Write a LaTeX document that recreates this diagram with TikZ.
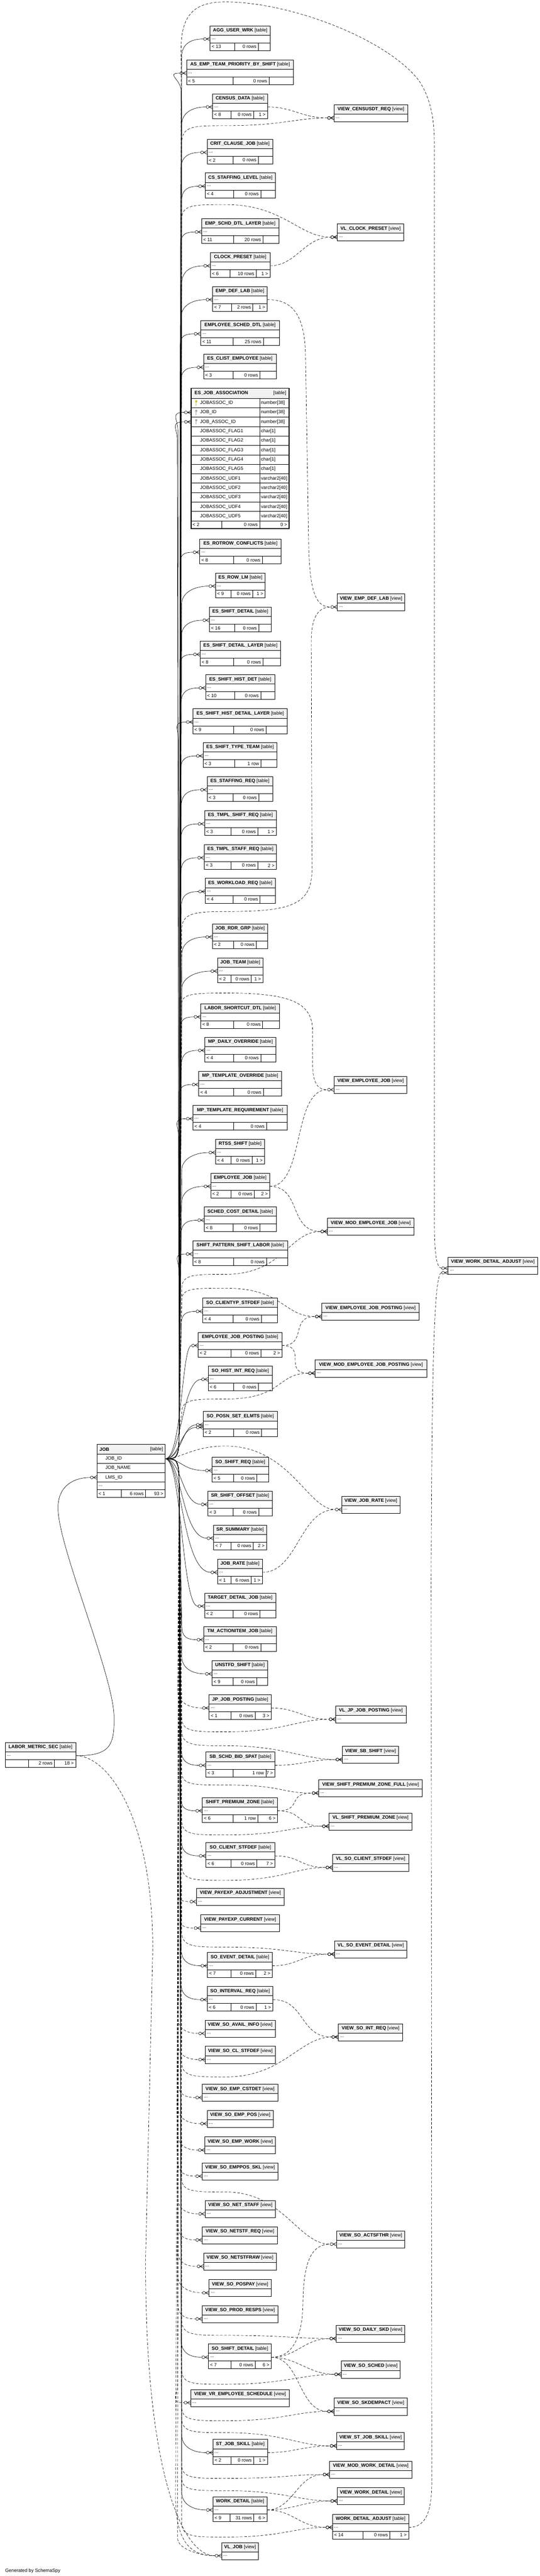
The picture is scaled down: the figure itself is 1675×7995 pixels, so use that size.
\documentclass[tikz,border=0pt]{standalone}
\usepackage{fontspec}
\setmainfont{Liberation Sans}
\usetikzlibrary{calc,backgrounds}

\newcommand{\fonte}{\fontsize{7.3}{8.5}\selectfont}

\tikzset{
  cab/.style={draw, line width=0.7pt, fill=black!5, minimum height=14.5pt, inner sep=0pt, outer sep=0pt, font=\fonte},
  lin/.style={draw, line width=0.7pt, fill=white, minimum height=12pt, inner sep=0pt, outer sep=0pt},
  rod/.style={inner sep=1pt, outer sep=0pt, font=\fonte},
  borda/.style={line width=0.7pt},
  lig/.style={line width=0.5pt},
  tr/.style={dash pattern=on 4pt off 2.5pt},
  pe/.pic={\draw[solid, line width=0.5pt] (-11.5,0) -- (0,-6) (-11.5,0) -- (0,0) (-11.5,0) -- (0,6);
           \draw[solid, line width=0.5pt] (-16,0) circle (2.25pt);},
  chave/.pic={\fill (0,-5) circle (1.7pt); \draw[line width=0.9pt] (0,-4) -- (0,9);}
}

% caixa de tabela: nome, x esquerdo, x direito, y topo, titulo
\newcommand{\tabela}[5]{%
  \node[cab, minimum width={(#3-#2)*0.5pt}, anchor=north west] (#1-c) at (#2,#4) {\textbf{#5} [table]};
  \node[lin, minimum width={(#3-#2)*0.5pt}, anchor=north west] (#1) at (#1-c.south west) {};
  \node[rod, anchor=west] (#1-p) at ($(#1.west)+(3,0)$) {...};}
% caixa de view
\newcommand{\visao}[5]{%
  \node[cab, minimum width={(#3-#2)*0.5pt}, anchor=north west] (#1-c) at (#2,#4) {\textbf{#5} [view]};
  \node[lin, minimum width={(#3-#2)*0.5pt}, anchor=north west] (#1) at (#1-c.south west) {};
  \node[rod, anchor=west] (#1-p) at ($(#1.west)+(3,0)$) {...};}
% rodape: nome, divisao 1, divisao 2, textos
\newcommand{\rodape}[6]{%
  \coordinate (#1-s1) at (#2,0);
  \coordinate (#1-s2) at (#3,0);
  \draw[borda] (#1.south west) rectangle ($(#1.south east)+(0,24)$);
  \draw[borda] (#1-s1 |- #1.south) -- ++(0,24) (#1-s2 |- #1.south) -- ++(0,24);
  \node[rod, anchor=west] (#1-f1) at ($(#1.south west)+(3,12)$) {#4};
  \node[rod, anchor=east] (#1-f2) at ($(#1-s2 |- #1.south)+(-4,12)$) {#5};
  \node[rod, anchor=east] (#1-f3) at ($(#1.south east)+(-4,12)$) {#6};}

% ligacoes a partir de JOB
\newcommand{\sobe}[2][0]{%
  \draw[lig] (job-id.east) .. controls +(35,0) and +(0,90) .. (jup)
    -- ($(tronco |- #2.west)+(-#1,55)$) .. controls +(0,-35) and +(-45,0) .. ($(#2.west)+(-21,0)$);
  \pic at (#2.west) {pe};}
\newcommand{\desce}[2][0]{%
  \draw[lig] (job-id.east) .. controls +(35,0) and +(0,-90) .. (jdn)
    -- ($(tronco |- #2.west)+(-#1,-55)$) .. controls +(0,35) and +(-45,0) .. ($(#2.west)+(-21,0)$);
  \pic at (#2.west) {pe};}
\newcommand{\descetr}[1]{%
  \draw[lig,tr] (job-id.east) .. controls +(35,0) and +(0,-90) .. (jdn)
    -- ($(tronco2 |- #1.west)+(0,-55)$) .. controls +(0,35) and +(-45,0) .. ($(#1.west)+(-21,0)$);
  \pic at (#1.west) {pe};}
\newcommand{\direto}[1]{%
  \draw[lig] (job-id.east) .. controls (tronco |- job-id.east) and (tronco |- #1.west) .. ($(#1.west)+(-21,0)$);
  \pic at (#1.west) {pe};}
\newcommand{\arcosobe}[3]{%
  \draw[lig,tr] (job-id.east) .. controls +(35,0) and +(0,90) .. (jup) -- (564,#2)
    .. controls (564,#3) and (600,#3) .. (700,#3) .. controls (880,#3) and ($(#1.west)+(-120,0)$) .. ($(#1.west)+(-21,0)$);
  \pic at (#1.west) {pe};}
\newcommand{\arcodesce}[3]{%
  \draw[lig,tr] (job-id.east) .. controls +(35,0) and +(0,-90) .. (jdn) -- (564,#2)
    .. controls (564,#3) and (600,#3) .. (700,#3) .. controls (880,#3) and ($(#1.west)+(-120,0)$) .. ($(#1.west)+(-21,0)$);
  \pic at (#1.west) {pe};}
% ligacao tabela -> view
\newcommand{\curva}[3][80]{%
  \draw[lig,tr] (#2.east) .. controls +(#1,0) and +(-#1,0) .. ($(#3.west)+(-21,0)$);
  \pic at (#3.west) {pe};}

\begin{document}
\begin{tikzpicture}[x=0.5pt,y=-0.5pt]
  \useasboundingbox (0,0) rectangle (1675,7995);

  % Coordenadas do tronco
  \coordinate (tronco) at (564,0);
  \coordinate (tronco2) at (551,0);
  \coordinate (jup) at (556,4440);
  \coordinate (jdn) at (556,4615);

  % Tabela JOB
  \node[cab, minimum width=106pt, minimum height=15pt, anchor=north west] (job-c) at (301,4483) {};
  \node[rod, anchor=west] (job-n) at ($(job-c.west)+(6,0)$) {\textbf{JOB}};
  \node[rod, anchor=east] (job-tipo) at ($(job-c.east)+(-5,0)$) {[table]};
  \node[lin, minimum width=106pt, minimum height=14.5pt, anchor=north west] (job-id) at (job-c.south west) {};
  \node[lin, minimum width=106pt, minimum height=14.5pt, anchor=north west] (job-nome) at (job-id.south west) {};
  \node[lin, minimum width=106pt, minimum height=14.5pt, anchor=north west] (job-lms) at (job-nome.south west) {};
  \node[lin, minimum width=106pt, anchor=north west] (job-p) at (job-lms.south west) {};
  \node[rod, anchor=west] (job-id-t) at ($(job-id.west)+(24,0)$) {JOB\_ID};
  \node[rod, anchor=west] (job-nome-t) at ($(job-nome.west)+(24,0)$) {JOB\_NAME};
  \node[rod, anchor=west] (job-lms-t) at ($(job-lms.west)+(24,0)$) {LMS\_ID};
  \node[rod, anchor=west] (job-pp) at ($(job-p.west)+(3,0)$) {...};
  \rodape{job-p}{376}{452}{< 1}{6 rows}{93 >}

  % Tabela ES_JOB_ASSOCIATION
  \node[cab, minimum width=152pt, minimum height=15.5pt, anchor=north west] (ja-c) at (593,1205) {};
  \node[rod, anchor=west] (ja-n) at ($(ja-c.west)+(9,0)$) {\textbf{ES\_JOB\_ASSOCIATION}};
  \node[rod, anchor=east] (ja-tipo) at ($(ja-c.east)+(-7,0)$) {[table]};
  \coordinate (ja-col) at (806,0);
  \foreach \nome/\tipo [count=\i from 0] in {JOBASSOC\_ID/number[38], JOB\_ID/number[38], JOB\_ASSOC\_ID/number[38],
      JOBASSOC\_FLAG1/char[1], JOBASSOC\_FLAG2/char[1], JOBASSOC\_FLAG3/char[1], JOBASSOC\_FLAG4/char[1], JOBASSOC\_FLAG5/char[1],
      JOBASSOC\_UDF1/varchar2[40], JOBASSOC\_UDF2/varchar2[40], JOBASSOC\_UDF3/varchar2[40], JOBASSOC\_UDF4/varchar2[40], JOBASSOC\_UDF5/varchar2[40]}{
    \node[lin, minimum width=152pt, minimum height=14.65pt, anchor=north west] (ja-\i) at (593,{1236+29.3*\i}) {};
    \node[rod, anchor=west] (ja-n\i) at ($(ja-\i.west)+(26,0)$) {\nome};
    \node[rod, anchor=west] (ja-t\i) at ($(ja-\i.west)+(215,0)$) {\tipo};
    \draw[borda] (ja-col |- ja-\i.north) -- (ja-col |- ja-\i.south);
  }
  \pic[color=yellow!75!black] at ($(ja-0.west)+(16,0)$) {chave};
  \pic[color=gray!70] at ($(ja-1.west)+(16,0)$) {chave};
  \pic[color=gray!70] at ($(ja-2.west)+(16,0)$) {chave};
  \rodape{ja-12}{688}{806}{< 2}{0 rows}{0 >}
  \draw[line width=1.4pt] (ja-c.north west) rectangle ($(ja-12.south east)+(0,24)$);

  % Tabelas
  \tabela{agg}{652}{839}{80}{AGG\_USER\_WRK} \rodape{agg}{729}{802}{< 13}{0 rows}{}
  \tabela{asemp}{579}{911}{186}{AS\_EMP\_TEAM\_PRIORITY\_BY\_SHIFT} \rodape{asemp}{724}{835}{< 5}{0 rows}{}
  \tabela{cens}{660}{830}{291}{CENSUS\_DATA} \rodape{cens}{717}{787}{< 8}{0 rows}{1 >}
  \tabela{crit}{643}{846}{432}{CRIT\_CLAUSE\_JOB} \rodape{crit}{724}{802}{< 2}{0 rows}{}
  \tabela{cssl}{637}{855}{537}{CS\_STAFFING\_LEVEL} \rodape{cssl}{725}{809}{< 4}{0 rows}{}
  \tabela{esdl}{626}{865}{679}{EMP\_SCHD\_DTL\_LAYER} \rodape{esdl}{725}{816}{< 11}{20 rows}{}
  \tabela{clock}{653}{838}{784}{CLOCK\_PRESET} \rodape{clock}{714}{795}{< 6}{10 rows}{1 >}
  \tabela{edl}{660}{829}{889}{EMP\_DEF\_LAB} \rodape{edl}{718}{785}{< 7}{2 rows}{1 >}
  \tabela{esd}{623}{867}{995}{EMPLOYEE\_SCHED\_DTL} \rodape{esd}{724}{817}{< 11}{25 rows}{}
  \tabela{clist}{632}{857}{1099}{ES\_CLIST\_EMPLOYEE} \rodape{clist}{724}{807}{< 3}{0 rows}{}
  \tabela{rotrow}{620}{872}{1673}{ES\_ROTROW\_CONFLICTS} \rodape{rotrow}{725}{814}{< 8}{0 rows}{}
  \tabela{rowlm}{669}{823}{1778}{ES\_ROW\_LM} \rodape{rowlm}{717}{784}{< 9}{0 rows}{1 >}
  \tabela{shdet}{650}{841}{1884}{ES\_SHIFT\_DETAIL} \rodape{shdet}{728}{803}{< 16}{0 rows}{}
  \tabela{shdl}{621}{871}{1990}{ES\_SHIFT\_DETAIL\_LAYER} \rodape{shdl}{725}{816}{< 8}{0 rows}{}
  \tabela{shhd}{638}{853}{2094}{ES\_SHIFT\_HIST\_DET} \rodape{shhd}{728}{809}{< 10}{0 rows}{}
  \tabela{shhdl}{599}{892}{2200}{ES\_SHIFT\_HIST\_DETAIL\_LAYER} \rodape{shhdl}{725}{826}{< 9}{0 rows}{}
  \tabela{stt}{630}{860}{2305}{ES\_SHIFT\_TYPE\_TEAM} \rodape{stt}{728}{810}{< 3}{1 row}{}
  \tabela{streq}{643}{846}{2410}{ES\_STAFFING\_REQ} \rodape{streq}{724}{803}{< 3}{0 rows}{}
  \tabela{tsh}{635}{857}{2516}{ES\_TMPL\_SHIFT\_REQ} \rodape{tsh}{717}{800}{< 3}{0 rows}{1 >}
  \tabela{tst}{634}{858}{2621}{ES\_TMPL\_STAFF\_REQ} \rodape{tst}{717}{800}{< 3}{0 rows}{2 >}
  \tabela{wl}{637}{854}{2726}{ES\_WORKLOAD\_REQ} \rodape{wl}{724}{807}{< 4}{0 rows}{}
  \tabela{rdr}{659}{831}{2867}{JOB\_RDR\_GRP} \rodape{rdr}{725}{796}{< 2}{0 rows}{}
  \tabela{team}{675}{816}{2973}{JOB\_TEAM} \rodape{team}{717}{780}{< 2}{0 rows}{1 >}
  \tabela{lsd}{623}{868}{3115}{LABOR\_SHORTCUT\_DTL} \rodape{lsd}{725}{815}{< 8}{0 rows}{}
  \tabela{mpd}{636}{856}{3219}{MP\_DAILY\_OVERRIDE} \rodape{mpd}{725}{809}{< 4}{0 rows}{}
  \tabela{mpto}{617}{874}{3325}{MP\_TEMPLATE\_OVERRIDE} \rodape{mpto}{725}{817}{< 4}{0 rows}{}
  \tabela{mptr}{599}{891}{3431}{MP\_TEMPLATE\_REQUIREMENT} \rodape{mptr}{725}{827}{< 4}{0 rows}{}
  \tabela{rtss}{669}{821}{3536}{RTSS\_SHIFT} \rodape{rtss}{717}{782}{< 4}{0 rows}{1 >}
  \tabela{ej}{654}{837}{3641}{EMPLOYEE\_JOB} \rodape{ej}{717}{789}{< 2}{0 rows}{2 >}
  \tabela{scd}{634}{857}{3746}{SCHED\_COST\_DETAIL} \rodape{scd}{724}{807}{< 8}{0 rows}{}
  \tabela{spsl}{598}{893}{3851}{SHIFT\_PATTERN\_SHIFT\_LABOR} \rodape{spsl}{725}{827}{< 8}{0 rows}{}
  \tabela{soct}{629}{861}{4029}{SO\_CLIENTYP\_STFDEF} \rodape{soct}{724}{811}{< 4}{0 rows}{}
  \tabela{ejp}{615}{875}{4135}{EMPLOYEE\_JOB\_POSTING} \rodape{ejp}{717}{810}{< 2}{0 rows}{2 >}
  \tabela{shir}{646}{845}{4240}{SO\_HIST\_INT\_REQ} \rodape{shir}{725}{802}{< 6}{0 rows}{}
  \tabela{spse}{630}{861}{4381}{SO\_POSN\_SET\_ELMTS} \rodape{spse}{725}{812}{< 2}{0 rows}{}
  \tabela{ssr}{658}{833}{4523}{SO\_SHIFT\_REQ} \rodape{ssr}{725}{797}{< 5}{0 rows}{}
  \tabela{sro}{645}{845}{4628}{SR\_SHIFT\_OFFSET} \rodape{sro}{724}{803}{< 3}{0 rows}{}
  \tabela{srs}{663}{827}{4733}{SR\_SUMMARY} \rodape{srs}{717}{786}{< 7}{0 rows}{2 >}
  \tabela{jr}{675}{814}{4839}{JOB\_RATE} \rodape{jr}{717}{780}{< 1}{6 rows}{1 >}
  \tabela{tdj}{635}{856}{4944}{TARGET\_DETAIL\_JOB} \rodape{tdj}{724}{807}{< 2}{0 rows}{}
  \tabela{tmai}{632}{857}{5048}{TM\_ACTIONITEM\_JOB} \rodape{tmai}{724}{809}{< 2}{0 rows}{}
  \tabela{unst}{658}{831}{5154}{UNSTFD\_SHIFT} \rodape{unst}{724}{797}{< 9}{0 rows}{}
  \tabela{jp}{649}{842}{5260}{JP\_JOB\_POSTING} \rodape{jp}{717}{792}{< 1}{0 rows}{3 >}
  \tabela{lms}{16}{235}{5408}{LABOR\_METRIC\_SEC} \rodape{lms}{89}{169}{}{2 rows}{18 >}
  \tabela{sbs}{639}{853}{5438}{SB\_SCHD\_BID\_SPAT} \rodape{sbs}{723}{825}{< 3}{1 row}{7 >}
  \tabela{spz}{628}{861}{5579}{SHIFT\_PREMIUM\_ZONE} \rodape{spz}{723}{800}{< 6}{1 row}{6 >}
  \tabela{socs}{639}{853}{5719}{SO\_CLIENT\_STFDEF} \rodape{socs}{717}{797}{< 6}{0 rows}{7 >}
  \tabela{sed}{644}{845}{6060}{SO\_EVENT\_DETAIL} \rodape{sed}{717}{794}{< 7}{0 rows}{2 >}
  \tabela{sir}{643}{847}{6165}{SO\_INTERVAL\_REQ} \rodape{sir}{717}{795}{< 6}{0 rows}{1 >}
  \tabela{sosd}{647}{842}{7275}{SO\_SHIFT\_DETAIL} \rodape{sosd}{717}{792}{< 7}{0 rows}{6 >}
  \tabela{stjs}{661}{830}{7571}{ST\_JOB\_SKILL} \rodape{stjs}{717}{787}{< 2}{0 rows}{1 >}
  \tabela{wd}{661}{829}{7749}{WORK\_DETAIL} \rodape{wd}{714}{788}{< 9}{31 rows}{6 >}
  \tabela{wda}{1032}{1268}{7803}{WORK\_DETAIL\_ADJUST} \rodape{wda}{1127}{1210}{< 14}{0 rows}{1 >}

  % Views
  \visao{vcens}{1037}{1265}{325}{VIEW\_CENSUSDT\_REQ}
  \visao{vlclock}{1047}{1253}{695}{VL\_CLOCK\_PRESET}
  \visao{vedl}{1047}{1256}{1843}{VIEW\_EMP\_DEF\_LAB}
  \visao{vej}{1037}{1263}{3341}{VIEW\_EMPLOYEE\_JOB}
  \visao{vmej}{1016}{1285}{3781}{VIEW\_MOD\_EMPLOYEE\_JOB}
  \visao{vwda}{1391}{1668}{3902}{VIEW\_WORK\_DETAIL\_ADJUST}
  \visao{vejp}{999}{1301}{4045}{VIEW\_EMPLOYEE\_JOB\_POSTING}
  \visao{vmejp}{978}{1324}{4221}{VIEW\_MOD\_EMPLOYEE\_JOB\_POSTING}
  \visao{vjr}{1061}{1241}{4644}{VIEW\_JOB\_RATE}
  \visao{vljp}{1042}{1260}{5295}{VL\_JP\_JOB\_POSTING}
  \visao{vsbs}{1063}{1237}{5420}{VIEW\_SB\_SHIFT}
  \visao{vspzf}{989}{1311}{5524}{VIEW\_SHIFT\_PREMIUM\_ZONE\_FULL}
  \visao{vlspz}{1021}{1279}{5627}{VL\_SHIFT\_PREMIUM\_ZONE}
  \visao{vlsocs}{1032}{1268}{5755}{VL\_SO\_CLIENT\_STFDEF}
  \visao{vpa}{610}{882}{5861}{VIEW\_PAYEXP\_ADJUSTMENT}
  \visao{vpc}{623}{867}{5943}{VIEW\_PAYEXP\_CURRENT}
  \visao{vlsed}{1038}{1263}{6024}{VL\_SO\_EVENT\_DETAIL}
  \visao{vsai}{637}{854}{6270}{VIEW\_SO\_AVAIL\_INFO}
  \visao{vsir}{1050}{1250}{6281}{VIEW\_SO\_INT\_REQ}
  \visao{vscl}{637}{855}{6351}{VIEW\_SO\_CL\_STFDEF}
  \visao{vsec}{628}{862}{6469}{VIEW\_SO\_EMP\_CSTDET}
  \visao{vsep}{643}{848}{6550}{VIEW\_SO\_EMP\_POS}
  \visao{vsew}{636}{855}{6632}{VIEW\_SO\_EMP\_WORK}
  \visao{vses}{628}{862}{6713}{VIEW\_SO\_EMPPOS\_SKL}
  \visao{vsns}{637}{855}{6830}{VIEW\_SO\_NET\_STAFF}
  \visao{vsnr}{628}{861}{6911}{VIEW\_SO\_NETSTF\_REQ}
  \visao{vsact}{1045}{1256}{6924}{VIEW\_SO\_ACTSFTHR}
  \visao{vsnw}{632}{857}{6993}{VIEW\_SO\_NETSTFRAW}
  \visao{vspp}{649}{841}{7075}{VIEW\_SO\_POSPAY}
  \visao{vspr}{628}{862}{7156}{VIEW\_SO\_PROD\_RESPS}
  \visao{vsds}{1044}{1256}{7217}{VIEW\_SO\_DAILY\_SKD}
  \visao{vssch}{1059}{1242}{7328}{VIEW\_SO\_SCHED}
  \visao{vvr}{592}{898}{7416}{VIEW\_VR\_EMPLOYEE\_SCHEDULE}
  \visao{vsski}{1037}{1264}{7443}{VIEW\_SO\_SKDEMPACT}
  \visao{vstjs}{1045}{1255}{7550}{VIEW\_ST\_JOB\_SKILL}
  \visao{vmwd}{1023}{1278}{7639}{VIEW\_MOD\_WORK\_DETAIL}
  \visao{vwd}{1047}{1255}{7721}{VIEW\_WORK\_DETAIL}
  \visao{vljob}{688}{802}{7891}{VL\_JOB}

  \node[rod, anchor=west] (gerado) at (14,7979) {Generated by SchemaSpy};

  \begin{pgfonlayer}{background}
  \fill[white] (0,0) rectangle (1675,7995);

  % Ligacoes de JOB para as tabelas acima
  \sobe{agg} \sobe[2]{asemp} \sobe{cens} \sobe[3]{crit} \sobe[1]{cssl} \sobe[4]{esdl}
  \sobe{clock} \sobe[2]{edl} \sobe[5]{esd} \sobe[3]{clist} \sobe[12]{ja-1} \sobe[14]{ja-2}
  \sobe[4]{rotrow} \sobe{rowlm} \sobe[2]{shdet} \sobe[5]{shdl} \sobe[3]{shhd} \sobe[10]{shhdl}
  \sobe[4]{stt} \sobe[2]{streq} \sobe[3]{tsh} \sobe[3]{tst} \sobe[2]{wl} \sobe{rdr} \sobe{team}
  \sobe[4]{lsd} \sobe[2]{mpd} \sobe[5]{mpto} \sobe[10]{mptr} \sobe{rtss} \sobe[1]{ej}
  \sobe[3]{scd} \sobe[8]{spsl} \sobe[2]{soct}

  % Ligacoes perto de JOB
  \direto{ejp} \direto{shir} \direto{spse} \direto{ssr} \direto{sro} \direto{srs} \direto{jr} \direto{tdj}
  \draw[lig] (job-id.east) .. controls (558,4527) and (558,4430) .. ($(spse.west)+(-21,8)$);
  \pic at ($(spse.west)+(0,8)$) {pe};

  % Ligacoes de JOB para as tabelas abaixo
  \desce{tmai} \desce{unst} \desce[2]{sbs} \desce[3]{spz} \desce[2]{socs} \desce[2]{sed}
  \desce[3]{sir} \desce[2]{sosd} \desce{stjs} \desce{wd}

  % Ligacoes de JOB para as views da esquerda
  \descetr{jp} \descetr{vpa} \descetr{vpc} \descetr{vsai} \descetr{vscl} \descetr{vsec}
  \descetr{vsep} \descetr{vsew} \descetr{vses} \descetr{vsns} \descetr{vsnr} \descetr{vsnw}
  \descetr{vspp} \descetr{vspr} \descetr{vvr} \descetr{vljob}
  \draw[lig,tr] (job-id.east) .. controls +(35,0) and +(0,-90) .. (jdn) -- (545,7750)
    .. controls (545,7900) and (600,7932) .. ($(vljob.west)+(-21,0)$);

  % Ligacoes de JOB para as views da direita
  \arcosobe{vcens}{445}{390}
  \arcosobe{vlclock}{680}{635}
  \arcosobe{vmej}{4000}{3955}
  \arcosobe{vejp}{4035}{3998}
  \arcosobe{vmejp}{4385}{4342}
  \arcodesce{vljp}{5330}{5375}
  \arcodesce{vsbs}{5370}{5418}
  \arcodesce{vspzf}{5500}{5540}
  \arcodesce{vlspz}{5650}{5695}
  \arcodesce{vlsocs}{5790}{5836}
  \arcodesce{vlsed}{5995}{6043}
  \arcodesce{vsir}{6400}{6446}
  \arcodesce{vsact}{6760}{6803}
  \arcodesce{vsds}{7200}{7248}
  \arcodesce{vssch}{7355}{7400}
  \arcodesce{vsski}{7470}{7513}
  \arcodesce{vstjs}{7505}{7550}
  \arcodesce{vmwd}{7650}{7692}
  \arcodesce{vwd}{7690}{7730}
  \arcodesce{wda}{7830}{7874}
  \draw[lig,tr] (job-id.east) .. controls +(35,0) and +(0,90) .. (jup) -- (564,2885)
    .. controls (564,2835) and (600,2829) .. (700,2829) .. controls (900,2829) and (968,2810) .. (968,2700)
    -- (966,1990) .. controls (966,1920) and (985,1884) .. ($(vedl.west)+(-21,0)$);
  \draw[lig,tr] (job-id.east) .. controls +(35,0) and +(0,90) .. (jup) -- (564,3115)
    .. controls (564,3085) and (600,3082) .. (700,3082) .. controls (900,3082) and (970,3110) .. (970,3200)
    -- (970,3300) .. controls (970,3360) and (985,3383) .. ($(vej.west)+(-21,0)$);
  \draw[lig,tr] (job-id.east) .. controls (560,4527) and (600,4488) .. (700,4488)
    .. controls (900,4488) and (955,4686) .. ($(vjr.west)+(-21,0)$);
  \draw[lig,tr] (job-id.east) .. controls +(35,0) and +(0,90) .. (jup) -- (562,150)
    .. controls (562,30) and (620,6) .. (700,6) .. controls (900,6) and (1200,120) .. (1300,250)
    .. controls (1340,310) and (1348,380) .. (1348,450) -- (1348,3800)
    .. controls (1348,3890) and (1355,3936) .. ($(vwda.west)+(-21,-7)$);
  \pic at ($(vwda.west)+(0,-7)$) {pe};

  % Ligacoes das tabelas para as views
  \curva{cens}{vcens} \curva{clock}{vlclock} \curva[110]{ej}{vej} \curva[100]{ej}{vmej}
  \curva{ejp}{vejp} \curva{ejp}{vmejp} \curva[110]{jr}{vjr} \curva{jp}{vljp} \curva{sbs}{vsbs}
  \curva{spz}{vspzf} \curva{spz}{vlspz} \curva{socs}{vlsocs} \curva{sed}{vlsed} \curva[100]{sir}{vsir}
  \curva{sosd}{vsds} \curva{sosd}{vssch} \curva[90]{sosd}{vsski} \curva{stjs}{vstjs}
  \curva{wd}{vmwd} \curva{wd}{vwd} \curva{wd}{wda}
  \draw[lig,tr] (edl.east) .. controls (910,929) and (945,980) .. (948,1100) -- (958,1700)
    .. controls (962,1850) and (985,1884) .. ($(vedl.west)+(-21,0)$);
  \pic at (vedl.west) {pe};
  \draw[lig,tr] (sosd.east) .. controls (905,7316) and (938,7260) .. (940,7150)
    .. controls (942,7020) and (965,6966) .. ($(vsact.west)+(-21,0)$);
  \draw[lig,tr] (wda.east) .. controls (1320,7844) and (1340,7800) .. (1340,7700) -- (1338,4900)
    .. controls (1340,4300) and (1345,3950) .. ($(vwda.west)+(-21,7)$);
  \pic at ($(vwda.west)+(0,7)$) {pe};

  % Ligacoes de LABOR_METRIC_SEC
  \draw[lig] (lms.east) .. controls (340,5449) and (355,5420) .. (354,5330)
    .. controls (353,5200) and (180,4800) .. (180,4680)
    .. controls (180,4610) and (230,4586) .. ($(job-lms.west)+(-21,0)$);
  \pic at (job-lms.west) {pe};
  \draw[lig,tr] (lms.east) .. controls (340,5449) and (474,5650) .. (474,6050) -- (452,7000)
    .. controls (448,7650) and (560,7932) .. ($(vljob.west)+(-21,0)$);
  \end{pgfonlayer}
\end{tikzpicture}
\end{document}
